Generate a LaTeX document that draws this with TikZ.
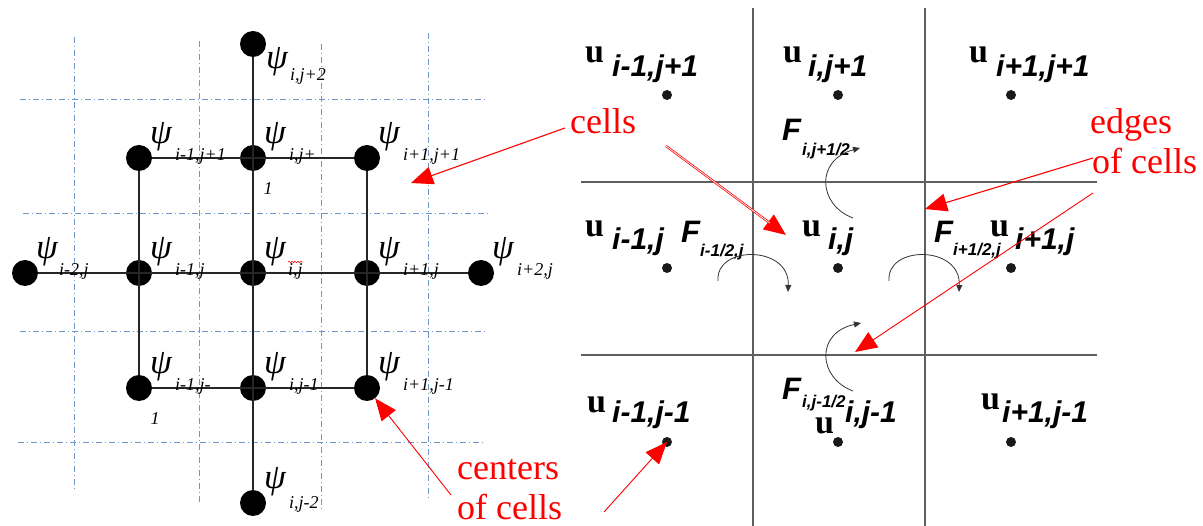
\documentclass[tikz,border=0pt]{standalone}
\usepackage{fontspec}
\setmainfont{Liberation Serif}
\newfontfamily\arialfont{Liberation Sans}
\usepackage{tikz}
\usetikzlibrary{arrows.meta, decorations.pathmorphing}

\definecolor{azulrejilla}{RGB}{110,150,205}
\definecolor{grisborde}{RGB}{95,95,95}

\begin{document}
\begin{tikzpicture}[
    x=1pt, y=-1pt,
    punto/.style={circle, fill=black, inner sep=0pt, minimum size=26pt},
    puntito/.style={circle, fill=black!90, inner sep=0pt, minimum size=10pt},
    linea/.style={draw=black!85, line width=1.1pt},
    rejilla/.style={draw=azulrejilla, line width=0.9pt,
                    dash pattern=on 6pt off 3pt on 1pt off 3pt},
    borde/.style={draw=grisborde, line width=1.1pt},
    psi/.style={font=\fontsize{35}{35}\selectfont\itshape, inner sep=0pt},
    sub/.style={font=\fontsize{18}{18}\selectfont\itshape, inner sep=0pt,
                anchor=base west},
    uno/.style={font=\fontsize{18}{18}\selectfont\itshape, inner sep=0pt},
    ulab/.style={font=\fontsize{34}{34}\selectfont\bfseries, inner sep=0pt,
                 anchor=base west},
    usub/.style={font=\fontsize{30}{30}\selectfont\arialfont\bfseries\itshape,
                 inner sep=0pt, anchor=base west},
    flab/.style={font=\fontsize{31}{31}\selectfont\arialfont\bfseries\itshape,
                 inner sep=0pt, anchor=base west},
    fsub/.style={font=\fontsize{17}{17}\selectfont\arialfont\bfseries\itshape,
                 inner sep=0pt, anchor=base west},
    nota/.style={font=\fontsize{36}{36}\selectfont, text=red, inner sep=0pt,
                 anchor=base west},
    flecha/.style={draw=red, line width=1.1pt,
                   -{Triangle[length=22pt, width=18pt]}},
    flujo/.style={draw=black!80, line width=0.8pt,
                  -{Triangle[length=7pt, width=6pt]}}
  ]

  \useasboundingbox[fill=white] (0,0) rectangle (1203,526);

  % --- Rejilla auxiliar (punto y raya) ---
  \draw[rejilla] (74,37) -- (74,490);
  \draw[rejilla] (199,41) -- (199,505);
  \draw[rejilla] (321,44) -- (321,510);
  \draw[rejilla] (428,33) -- (428,500);
  \draw[rejilla] (20,99) -- (485,99);
  \draw[rejilla] (23,213) -- (488,213);
  \draw[rejilla] (20,331) -- (485,331);
  \draw[rejilla] (18,442) -- (485,442);

  % --- Puntos psi ---
  \node[punto] (pnn) at (253,44) {};
  \node[punto] (pnw) at (139,158) {};
  \node[punto] (pn)  at (253,158) {};
  \node[punto] (pne) at (367,158) {};
  \node[punto] (pww) at (25,273) {};
  \node[punto] (pw)  at (139,273) {};
  \node[punto] (pc)  at (253,273) {};
  \node[punto] (pe)  at (367,273) {};
  \node[punto] (pee) at (481,273) {};
  \node[punto] (psw) at (139,388) {};
  \node[punto] (ps)  at (253,388) {};
  \node[punto] (pse) at (367,388) {};
  \node[punto] (pss) at (253,503) {};

  \draw[linea] (pww) -- (pee);
  \draw[linea] (pnn) -- (pss);
  \draw[linea] (pnw) -- (pne) -- (pse) -- (psw) -- (pnw);

  % --- Etiquetas psi ---
  \node[psi] (lpnn) at (277,62) {ψ};
  \node[sub] (spnn) at (290,81) {i,j+2};
  \node[psi] (lpnw) at (161,137) {ψ};
  \node[sub] (spnw) at (175,161) {i-1,j+1};
  \node[psi] (lpn) at (275,137) {ψ};
  \node[sub] (spn) at (289,161) {i,j+};
  \node[uno] (upn) at (268,189) {1};
  \node[psi] (lpne) at (389,137) {ψ};
  \node[sub] (spne) at (403,161) {i+1,j+1};
  \node[psi] (lpww) at (47,252) {ψ};
  \node[sub] (spww) at (59,276) {i-2,j};
  \node[psi] (lpw) at (161,252) {ψ};
  \node[sub] (spw) at (175,276) {i-1,j};
  \node[psi] (lpc) at (275,252) {ψ};
  \node[sub] (spc) at (288,276) {i,j};
  \node[psi] (lpe) at (389,252) {ψ};
  \node[sub] (spe) at (403,276) {i+1,j};
  \node[psi] (lpee) at (503,252) {ψ};
  \node[sub] (spee) at (517,276) {i+2,j};
  \node[psi] (lpsw) at (161,367) {ψ};
  \node[sub] (spsw) at (175,391) {i-1,j-};
  \node[uno] (upsw) at (155,419) {1};
  \node[psi] (lps) at (275,367) {ψ};
  \node[sub] (sps) at (289,391) {i,j-1};
  \node[psi] (lpse) at (389,367) {ψ};
  \node[sub] (spse) at (403,391) {i+1,j-1};
  \node[psi] (lpss) at (275,482) {ψ};
  \node[sub] (spss) at (289,508) {i,j-2};

  % marca del corrector
  \draw[red, line width=0.5pt, decorate,
        decoration={snake, amplitude=0.8pt, segment length=3pt}]
    (288,262) -- (303,262);

  % --- Celdas de volumen finito ---
  \draw[borde] (753,8) -- (753,526);
  \draw[borde] (925,8) -- (925,526);
  \draw[borde] (581,182) -- (1097,182);
  \draw[borde] (581,355) -- (1097,355);

  \node[puntito] (cnw) at (667,95) {};
  \node[puntito] (cn)  at (838,95) {};
  \node[puntito] (cne) at (1011,95) {};
  \node[puntito] (cw)  at (667,268) {};
  \node[puntito] (cc)  at (838,268) {};
  \node[puntito] (ce)  at (1011,268) {};
  \node[puntito] (csw) at (667,442) {};
  \node[puntito] (cs)  at (838,442) {};
  \node[puntito] (cse) at (1011,442) {};

  % --- Etiquetas u ---
  \node[ulab] (ucnw) at (585,63) {u};
  \node[usub] (scnw) at (612,77) {i-1,j+1};
  \node[ulab] (ucn) at (783,63) {u};
  \node[usub] (scn) at (808,77) {i,j+1};
  \node[ulab] (ucne) at (969,63) {u};
  \node[usub] (scne) at (996,77) {i+1,j+1};
  \node[ulab] (ucw) at (585,237) {u};
  \node[usub] (scw) at (612,250) {i-1,j};
  \node[ulab] (ucc) at (802,237) {u};
  \node[usub] (scc) at (828,250) {i,j};
  \node[ulab] (uce) at (990,237) {u};
  \node[usub] (sce) at (1015,250) {i+1,j};
  \node[ulab] (ucsw) at (587,413) {u};
  \node[usub] (scsw) at (612,423) {i-1,j-1};
  \node[ulab] (ucs) at (815,434) {u};
  \node[usub] (scs) at (845,423) {i,j-1};
  \node[ulab] (ucse) at (981,410) {u};
  \node[usub] (scse) at (1002,423) {i+1,j-1};

  % --- Flujos ---
  \node[flab] (fn) at (782,141) {F};
  \node[fsub] (sfn) at (802,156) {i,j+1/2};
  \node[flab] (fw) at (681,243) {F};
  \node[fsub] (sfw) at (700,257) {i-1/2,j};
  \node[flab] (fe) at (934,243) {F};
  \node[fsub] (sfe) at (953,256) {i+1/2,j};
  \node[flab] (fs) at (782,400) {F};
  \node[fsub] (sfs) at (802,408) {i,j-1/2};

  \draw[flujo] (853,218) .. controls (818,205) and (815,160) .. (860,148);
  \draw[flujo] (718,281) .. controls (715,245) and (790,245) .. (788,292);
  \draw[flujo] (889,281) .. controls (886,245) and (961,245) .. (959,292);
  \draw[flujo] (853,391) .. controls (818,378) and (815,333) .. (861,323);

  % --- Notas en rojo ---
  \node[nota] (cells) at (570,134) {cells};
  \node[nota] (edges) at (1090,134) {edges};
  \node[nota] (edges2) at (1092,174) {of cells};
  \node[nota] (centers) at (457,480) {centers};
  \node[nota] (centers2) at (457,520) {of cells};

  \coordinate (a1) at (565,128);
  \coordinate (t1) at (411,183);
  \coordinate (a2) at (666,146);
  \coordinate (t2) at (786,235);
  \coordinate (a3) at (1093,158);
  \coordinate (t3) at (925,209);
  \coordinate (a4) at (1093,193);
  \coordinate (t4) at (855,352);
  \coordinate (a5) at (451,495);
  \coordinate (a6) at (604,512);

  \draw[flecha] (a1) -- (t1);
  \draw[flecha, line width=2.2pt] (a2) -- (t2);
  \draw[white, line width=0.7pt, shorten >=20pt] (a2) -- (t2);
  \draw[flecha] (a3) -- (t3);
  \draw[flecha, line width=0.9pt] (a4) -- (t4);
  \draw[flecha, line width=0.9pt] (a5) -- (pse);
  \draw[flecha, line width=0.9pt] (a6) -- (csw.center);
\end{tikzpicture}
\end{document}
